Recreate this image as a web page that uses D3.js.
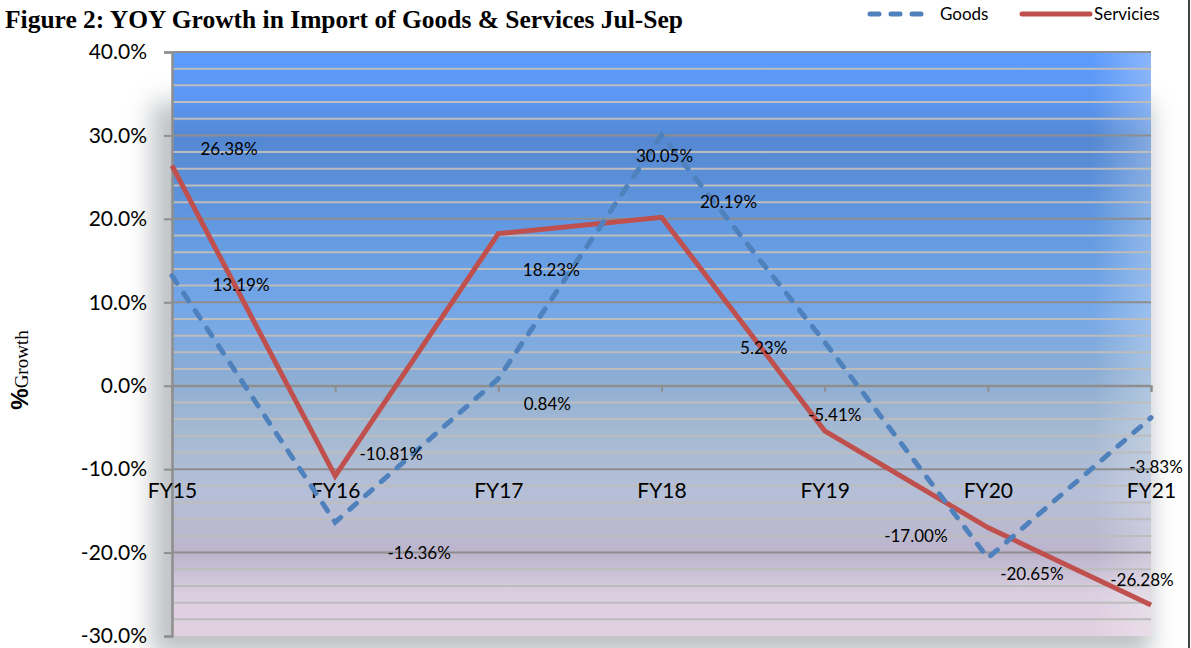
<!DOCTYPE html>
<html>
<head>
<meta charset="utf-8">
<script src="https://cdn.jsdelivr.net/npm/d3@7"></script>
<style>
  body { margin: 0; background: #fff; }
  svg { display: block; }
</style>
</head>
<body>
<div class="chart"></div>
<script>
// data
const categories = ["FY15", "FY16", "FY17", "FY18", "FY19", "FY20", "FY21"];
const goods = [13.19, -16.36, 0.84, 30.05, 5.23, -20.65, -3.83];
const services = [26.38, -10.81, 18.23, 20.19, -5.41, -17.00, -26.28];
const yTicks = [-30, -20, -10, 0, 10, 20, 30, 40];

// label offsets (the labels sit loosely around their points in the original)
const goodsLabelOffset = [[69, 9], [84, 31], [49, 25], [3, 21], [-61, 6], [44, 16], [5, 49]];
const servicesLabelOffset = [[57, -17], [56, -22], [53, 36], [67, -15], [10, -16], [-72, 9], [-9, -25]];

let W = 1191, H = 648;
let plot = {left: 172, right: 1151, top: 52, bottom: 636};

let svg = d3.select(".chart").append("svg")
    .attr("width", W)
    .attr("height", H);

let defs = svg.append("defs");

// background gradient of the plot area
let grad = defs.append("linearGradient")
    .attr("id", "bg")
    .attr("x1", 0).attr("y1", 0).attr("x2", 0).attr("y2", 1);
[[0, "#5e9cfd"], [0.08, "#5b97f2"], [0.15, "#5588d2"], [0.3, "#6299e0"],
 [0.45, "#76a8e8"], [0.55, "#8badd4"], [0.65, "#a5b9d2"], [0.76, "#b6bfd8"],
 [0.86, "#bcb5cc"], [0.93, "#dccfe1"], [1, "#e2d0e0"]]
    .forEach(s => grad.append("stop").attr("offset", s[0]).attr("stop-color", s[1]));

let fade = defs.append("linearGradient")
    .attr("id", "fade")
    .attr("x1", 0).attr("y1", 0).attr("x2", 1).attr("y2", 0);
fade.append("stop").attr("offset", 0.94).attr("stop-color", "#fff").attr("stop-opacity", 0);
fade.append("stop").attr("offset", 1).attr("stop-color", "#fff").attr("stop-opacity", 0.28);

defs.append("filter")
    .attr("id", "blur")
    .attr("x", "-20%").attr("y", "-20%").attr("width", "140%").attr("height", "140%")
    .append("feGaussianBlur")
    .attr("stdDeviation", 12);

// soft shadow round the plot
svg.append("rect")
    .attr("x", plot.left - 20)
    .attr("y", plot.top + 50)
    .attr("width", plot.right - plot.left + 20)
    .attr("height", plot.bottom - plot.top - 30)
    .attr("fill", "#b4b8bc")
    .attr("opacity", 0.85)
    .attr("filter", "url(#blur)");

svg.append("rect")
    .attr("x", plot.left)
    .attr("y", plot.top)
    .attr("width", plot.right - plot.left)
    .attr("height", plot.bottom - plot.top)
    .attr("fill", "url(#bg)");

svg.append("rect")
    .attr("x", plot.left)
    .attr("y", plot.top)
    .attr("width", plot.right - plot.left)
    .attr("height", plot.bottom - plot.top)
    .attr("fill", "url(#fade)");

// scales
let x = d3.scalePoint()
    .domain(categories)
    .range([plot.left, plot.right]);

let y = d3.scaleLinear()
    .domain([-30, 40])
    .range([plot.bottom, plot.top]);

// gridlines every 2%
let grid = svg.append("g").attr("class", "grid");
grid.selectAll("line")
    .data(d3.range(-28, 40, 2))
    .enter().append("line")
    .attr("x1", plot.left)
    .attr("x2", plot.right)
    .attr("y1", d => y(d))
    .attr("y2", d => y(d))
    .attr("stroke", d => d % 10 === 0 ? "#8e8e8e" : "#bdbdbd")
    .attr("stroke-width", 2);

grid.append("line")
    .attr("x1", plot.left).attr("x2", plot.right)
    .attr("y1", y(40)).attr("y2", y(40))
    .attr("stroke", "#8e8e8e").attr("stroke-width", 2);

// y axis
let yAxis = svg.append("g")
    .attr("transform", "translate(" + plot.left + ",0)")
    .call(d3.axisLeft(y).tickValues(yTicks).tickSize(8).tickPadding(17)
        .tickFormat(d => d.toFixed(1) + "%"));
yAxis.selectAll("line").attr("stroke", "#8e8e8e").attr("stroke-width", 2);
yAxis.select(".domain").attr("stroke", "#8e8e8e").attr("stroke-width", 2.5);
yAxis.selectAll("text")
    .attr("font-family", "Lato, 'Open Sans', sans-serif")
    .attr("font-size", 21)
    .attr("fill", "#000");

// x axis at 0%
let xAxis = svg.append("g")
    .attr("transform", "translate(0," + y(0) + ")")
    .call(d3.axisBottom(x).tickSize(6));
xAxis.select(".domain").attr("stroke", "#8e8e8e").attr("stroke-width", 2);
xAxis.selectAll("line").attr("stroke", "#8e8e8e").attr("stroke-width", 2);
xAxis.selectAll("text")
    .attr("y", 112)
    .attr("dy", 0)
    .attr("font-family", "Lato, 'Open Sans', sans-serif")
    .attr("font-size", 21)
    .attr("fill", "#000");

// lines
let line = d3.line()
    .x((d, i) => x(categories[i]))
    .y(d => y(d));

svg.append("path")
    .datum(services)
    .attr("d", line)
    .attr("fill", "none")
    .attr("stroke", "#c0504d")
    .attr("stroke-width", 5)
    .attr("stroke-linejoin", "miter");

svg.append("path")
    .datum(goods)
    .attr("d", line)
    .attr("fill", "none")
    .attr("stroke", "#4f81bd")
    .attr("stroke-width", 5)
    .attr("stroke-dasharray", "9,12")
    .attr("stroke-linecap", "round");

// data labels
let fmt = d => d.toFixed(2) + "%";
function addLabels(values, offsets) {
    svg.append("g").selectAll("text")
        .data(values)
        .enter().append("text")
        .attr("x", (d, i) => x(categories[i]) + offsets[i][0])
        .attr("y", (d, i) => y(d) + offsets[i][1])
        .attr("dy", "0.35em")
        .attr("text-anchor", "middle")
        .attr("font-family", "Lato, 'Open Sans', sans-serif")
        .attr("font-size", 17)
        .attr("fill", "#000")
        .text(fmt);
}
addLabels(goods, goodsLabelOffset);
addLabels(services, servicesLabelOffset);

// title
svg.append("text")
    .attr("x", 5)
    .attr("y", 28)
    .attr("font-family", "'Liberation Serif', 'Times New Roman', serif")
    .attr("font-weight", "bold")
    .attr("font-size", 25)
    .attr("textLength", 678)
    .attr("lengthAdjust", "spacingAndGlyphs")
    .text("Figure 2: YOY Growth in Import of Goods & Services Jul-Sep");

// y axis title
let yt = svg.append("text")
    .attr("transform", "translate(28,370) rotate(-90)")
    .attr("text-anchor", "middle");
yt.append("tspan")
    .attr("font-family", "'Liberation Sans', Arial, sans-serif")
    .attr("font-weight", "bold")
    .attr("font-size", 24)
    .text("%");
yt.append("tspan")
    .attr("font-family", "'Liberation Serif', 'Times New Roman', serif")
    .attr("font-size", 19)
    .text("Growth");

// legend
let legend = svg.append("g").attr("font-family", "Lato, 'Open Sans', sans-serif").attr("font-size", 17);
legend.append("line")
    .attr("x1", 870).attr("x2", 928).attr("y1", 14).attr("y2", 14)
    .attr("stroke", "#4f81bd").attr("stroke-width", 5)
    .attr("stroke-dasharray", "9,12").attr("stroke-linecap", "round");
legend.append("text").attr("x", 940).attr("y", 20).text("Goods");
legend.append("line")
    .attr("x1", 1022).attr("x2", 1090).attr("y1", 14).attr("y2", 14)
    .attr("stroke", "#c0504d").attr("stroke-width", 5).attr("stroke-linecap", "round");
legend.append("text").attr("x", 1094).attr("y", 20).text("Servicies");

// right border
svg.append("line")
    .attr("x1", 1189).attr("x2", 1189).attr("y1", 0).attr("y2", H)
    .attr("stroke", "#000").attr("stroke-width", 1.5);
</script>
</body>
</html>
